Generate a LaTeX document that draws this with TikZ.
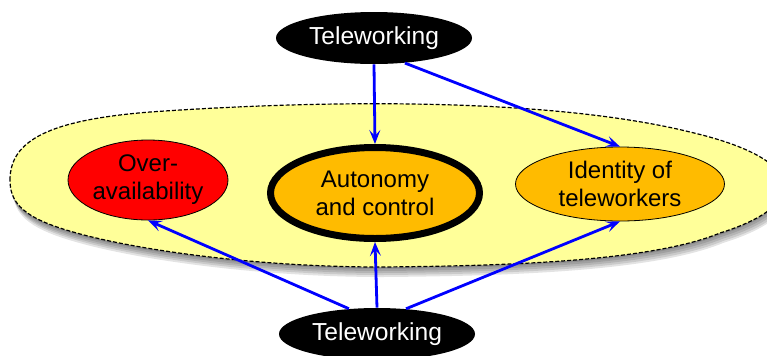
\documentclass[tikz,border=0pt]{standalone}
\usepackage{fontspec}
\setmainfont{Liberation Sans}
\usepackage{xcolor}
\usetikzlibrary{shapes.geometric,arrows.meta}

\definecolor{zoneyellow}{RGB}{255,255,153}
\definecolor{factororange}{RGB}{255,187,0}

% outline of the yellow zone, in pixels
\newcommand{\zonepath}{(10,180) .. controls (10,140) and (50,120) .. (150,112)
    .. controls (350,98) and (560,100) .. (690,132)
    .. controls (810,160) and (810,205) .. (720,233)
    .. controls (650,262) and (500,266) .. (380,267)
    .. controls (250,267) and (120,248) .. (60,228)
    .. controls (20,215) and (10,200) .. (10,180) -- cycle}

\begin{document}
\begin{tikzpicture}[
    x=0.5pt, y=-0.5pt,
    factor/.style={ellipse, draw=black, fill=factororange, thin, align=center, inner sep=0pt, font=\fontsize{12}{14}\selectfont},
    source/.style={ellipse, fill=black, text=white, inner sep=0pt, minimum width=98pt, minimum height=26pt, font=\fontsize{12.3}{14}\selectfont},
    arrow/.style={-{Stealth[length=7pt,width=5.5pt,inset=3pt]}, line width=1.4pt, draw=blue}
]
    \useasboundingbox (0,0) rectangle (767,355);

    % soft shadow, then the zone itself
    \foreach \dx/\dy in {0/2, 1/4, 2/6, 3/8, 3/10}
        \fill [black, opacity=0.11, shift={(\dx,\dy)}] \zonepath;
    \path [fill=zoneyellow, draw=black, line width=0.6pt, dash pattern=on 2pt off 1pt] \zonepath;

    \node [source] (tw1) at (374,38) {Teleworking};
    \node [source] (tw2) at (377,334) {Teleworking};

    \node [factor, fill=red, minimum width=80pt, minimum height=40pt] (over) at (148,180) {Over-\\availability};
    \node [factor, line width=3.5pt, minimum width=104.5pt, minimum height=45.5pt] (auto) at (375,193) {Autonomy\\and control};
    \node [factor, minimum width=104.5pt, minimum height=37pt] (ident) at (620,184) {Identity of\\teleworkers};

    \draw [arrow] (tw1.south) -- (auto.north);
    \draw [arrow] (tw1.-39) -- (ident.north);
    \draw [arrow] (tw2.138) -- (over.south);
    \draw [arrow] (tw2.north) -- (auto.south);
    \draw [arrow] (tw2.41) -- (ident.south);
\end{tikzpicture}
\end{document}
